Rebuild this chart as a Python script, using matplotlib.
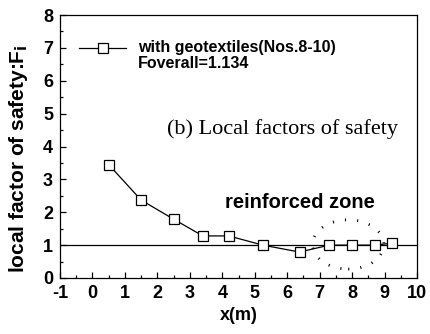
import matplotlib
matplotlib.use("Agg")
import matplotlib.pyplot as plt
from matplotlib.patches import Ellipse
from matplotlib.ticker import MultipleLocator

x_vals = [0.5, 1.5, 2.5, 3.4, 4.2, 5.25, 6.38, 7.3, 8.0, 8.72, 9.22]
f_vals = [3.45, 2.37, 1.79, 1.28, 1.28, 1.0, 0.79, 1.0, 1.0, 1.0, 1.06]
legend_line1 = "with geotextiles(Nos.8-10)"
legend_line2 = "Foverall=1.134"

plt.rcParams['font.family'] = ['Liberation Sans', 'DejaVu Sans']
plt.rcParams['axes.unicode_minus'] = False
fig = plt.figure(figsize=(4.3, 3.34), dpi=100)
ax = fig.add_axes([60/430, 1 - 278/334, (417-60)/430, (278-15)/334])

ax.axhline(1.0, color='black', lw=0.9)
ax.plot(x_vals, f_vals, color='black', lw=0.9, marker='s', markersize=7,
        markerfacecolor='white', markeredgecolor='black', markeredgewidth=0.9)

# legend drawn manually
ax.plot([-0.42, 0.13], [7, 7], color='black', lw=0.9)
ax.plot([0.51, 1.03], [7, 7], color='black', lw=0.9)
ax.plot([0.32], [7], marker='s', markersize=7, markerfacecolor='white',
        markeredgecolor='black', markeredgewidth=0.9, color='black', linestyle='none')
ax.text(1.4, 7.0, legend_line1, fontsize=11.5, fontweight='bold', va='center')
ax.text(1.4, 6.52, legend_line2, fontsize=11.5, fontweight='bold', va='center')

ax.text(2.3, 4.52, "(b) Local factors of safety", fontsize=16, family='Liberation Serif', va='center')
ax.text(6.38, 2.3, "reinforced zone", fontsize=14.5, fontweight='bold', ha='center', va='center')

ell = Ellipse((7.88, 1.02), 2.2, 1.5, fill=False, edgecolor='black', lw=2,
              linestyle=(0, (0.4, 4)))
ax.add_patch(ell)

ax.set_xlim(-1, 10)
ax.set_ylim(0, 8)
ax.xaxis.set_major_locator(MultipleLocator(1))
ax.xaxis.set_minor_locator(MultipleLocator(0.5))
ax.yaxis.set_major_locator(MultipleLocator(1))
ax.yaxis.set_minor_locator(MultipleLocator(0.5))
ax.tick_params(which='both', direction='in', top=False, right=False, width=0.9)
ax.tick_params(which='major', length=4.5, labelsize=13, pad=5)
ax.tick_params(which='minor', length=2.5)
for lab in ax.get_xticklabels() + ax.get_yticklabels():
    lab.set_fontweight('bold')
for s in ax.spines.values():
    s.set_linewidth(0.9)

ax.set_xlabel("x(m)", fontsize=13, fontweight='bold', labelpad=4)
ax.set_ylabel("local factor of safety:F$_\\mathbf{i}$", fontsize=15, fontweight='bold')
ax.yaxis.set_label_coords(-0.085, 0.452)

fig.savefig("out.png", dpi=100)
